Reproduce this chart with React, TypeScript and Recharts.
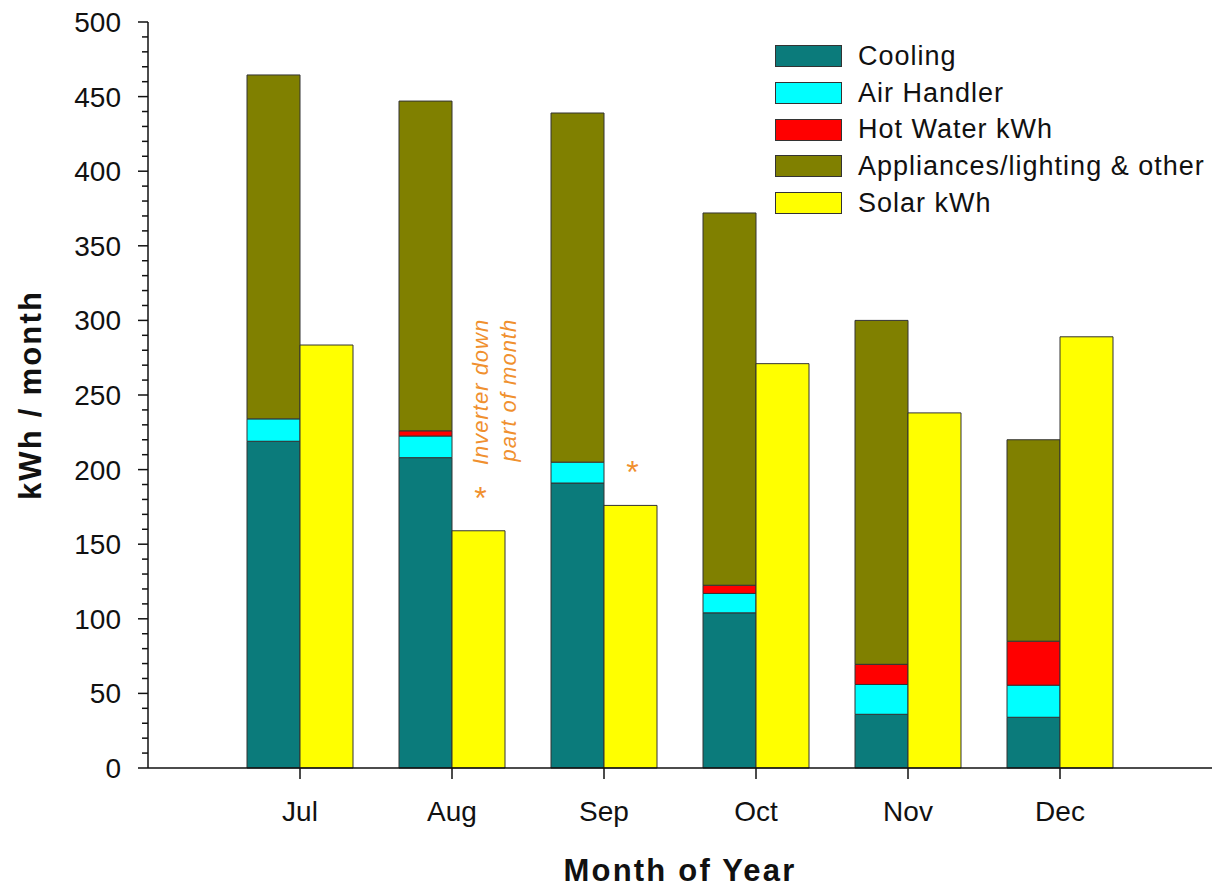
import React from 'react';
import { BarChart, Bar, XAxis, YAxis, Legend, LabelList, Label } from 'recharts';

const months = ['Jul', 'Aug', 'Sep', 'Oct', 'Nov', 'Dec'];
const cooling = [219, 208, 191, 104, 36, 34];
const airHandler = [15, 14.5, 14, 13, 20, 21.5];
const hotWater = [0, 3.5, 0, 5.5, 13.5, 29.5];
const appliances = [230.5, 221, 234, 249.5, 230.5, 135];
const solar = [283.5, 159, 176, 271, 238, 289];
const notes = ['', '*', '*', '', '', ''];
const noteLines = ['Inverter down', 'part of month'];
const yTicks = Array.from({ length: 51 }, (_, i) => i * 10);

const series = [
  { key: 'cooling', name: 'Cooling', color: '#0B7B7B' },
  { key: 'airHandler', name: 'Air Handler', color: '#00FFFF' },
  { key: 'hotWater', name: 'Hot Water kWh', color: '#FF0000' },
  { key: 'appliances', name: 'Appliances/lighting & other', color: '#808000' },
  { key: 'solar', name: 'Solar kWh', color: '#FFFF00' },
];

const data = months.map((month, i) => ({
  month,
  cooling: cooling[i],
  airHandler: airHandler[i],
  hotWater: hotWater[i],
  appliances: appliances[i],
  solar: solar[i],
}));

const FONT = '"Liberation Sans", Arial, sans-serif';
const NOTE_COLOR = '#F0902E';

function YTick({ x, y, payload }: any) {
  const major = payload.value % 50 === 0;
  return (
    <g>
      <line x1={x - (major ? 10 : 6)} x2={x} y1={y} y2={y} stroke="#111" strokeWidth={1.5} />
      {major && (
        <text x={x - 27} y={y} dy={10} textAnchor="end" fontSize={28} fill="#111" fontFamily={FONT}>
          {payload.value}
        </text>
      )}
    </g>
  );
}

function NoteLabel({ x, y, width, index }: any) {
  if (!notes[index]) return null;
  const cx = x + width / 2;
  return (
    <g fontFamily={FONT} fill={NOTE_COLOR}>
      <text x={cx + 2} y={y - 22} textAnchor="middle" fontSize={32}>
        {notes[index]}
      </text>
      {index === 1 &&
        noteLines.map((line, k) => {
          const tx = cx + 10 + k * 28;
          const ty = y - 212;
          return (
            <text
              key={line}
              x={tx}
              y={ty}
              textAnchor="end"
              fontSize={22}
              fontStyle="italic"
              letterSpacing={1}
              transform={`rotate(-90, ${tx}, ${ty})`}
            >
              {line}
            </text>
          );
        })}
    </g>
  );
}

function LegendBox() {
  return (
    <div style={{ fontFamily: FONT }}>
      {series.map((s) => (
        <div key={s.key} style={{ display: 'flex', alignItems: 'center', height: 36.7 }}>
          <div
            style={{
              width: 65,
              height: 20,
              background: s.color,
              border: '1px solid #333',
              marginRight: 16,
            }}
          />
          <span style={{ fontSize: 27, color: '#111', letterSpacing: 1, whiteSpace: 'nowrap' }}>{s.name}</span>
        </div>
      ))}
    </div>
  );
}

export default function App() {
  return (
    <div style={{ position: 'absolute', left: 0, top: 0, background: '#fff' }}>
      <BarChart
        width={1214}
        height={889}
        data={data}
        margin={{ top: 22, right: 2, left: 0, bottom: 0 }}
        barSize={53}
        barGap={0}
      >
        <XAxis
          dataKey="month"
          height={121}
          padding={{ left: 76, right: 76 }}
          stroke="#111"
          strokeWidth={1.5}
          tickSize={11}
          tickMargin={22}
          tick={{ fontSize: 28, fill: '#111', fontFamily: FONT }}
        >
          <Label
            value="Month of Year"
            position="insideBottom"
            offset={8}
            style={{ fontSize: 31, fontWeight: 'bold', fill: '#111', fontFamily: FONT, letterSpacing: 2.2 }}
          />
        </XAxis>
        <XAxis xAxisId="top" orientation="top" dataKey="month" height={0} tick={false} tickLine={false} stroke="#111" strokeWidth={1.5} />
        <YAxis
          domain={[0, 500]}
          ticks={yTicks}
          interval={0}
          width={148}
          tickSize={0}
          tickMargin={0}
          tickLine={false}
          stroke="#111"
          strokeWidth={1.5}
          tick={<YTick />}
        >
          <Label
            value="kWh / month"
            angle={-90}
            position="insideLeft"
            offset={30}
            style={{ fontSize: 31, fontWeight: 'bold', fill: '#111', fontFamily: FONT, letterSpacing: 2.2, textAnchor: 'middle' }}
          />
        </YAxis>
        <YAxis yAxisId="right" orientation="right" domain={[0, 500]} width={0} tick={false} tickLine={false} stroke="#111" strokeWidth={1.5} />
        <Legend
          layout="vertical"
          align="center"
          verticalAlign="middle"
          wrapperStyle={{ left: 775, top: 38, width: 440 }}
          content={() => <LegendBox />}
        />
        {series.slice(0, 4).map((s) => (
          <Bar
            key={s.key}
            dataKey={s.key}
            name={s.name}
            stackId="use"
            fill={s.color}
            stroke="#333"
            strokeWidth={1}
            isAnimationActive={false}
          />
        ))}
        <Bar dataKey="solar" name="Solar kWh" fill="#FFFF00" stroke="#333" strokeWidth={1} isAnimationActive={false}>
          <LabelList dataKey="solar" content={<NoteLabel />} />
        </Bar>
      </BarChart>
    </div>
  );
}
